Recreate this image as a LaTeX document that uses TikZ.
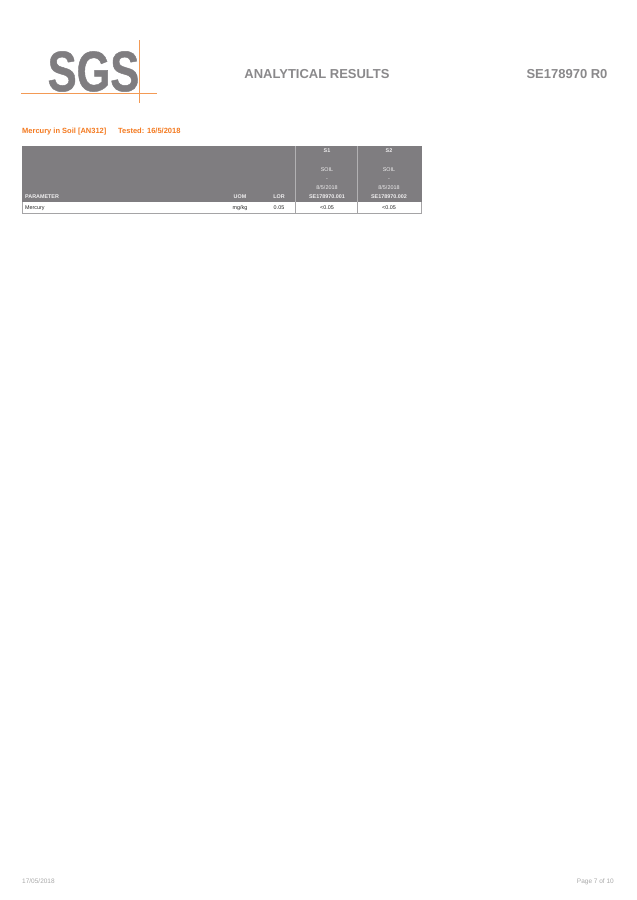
\documentclass[tikz,border=0pt]{standalone}
\usepackage{fontspec}
\setmainfont{Liberation Sans}
\usetikzlibrary{positioning}
\definecolor{sgsgrey}{HTML}{7F7D80}
\definecolor{sgsorange}{HTML}{F47A20}
\definecolor{sgslight}{HTML}{F39A55}
\definecolor{sgstitle}{HTML}{8A898B}
\definecolor{sgsfoot}{HTML}{A9A9A9}
\tikzset{
    band/.style = {fill=sgsgrey, inner sep=0pt, anchor=north west},
    rowbox/.style = {fill=white, inner sep=0pt, anchor=north west},
    head/.style = {text=white!88!sgsgrey, font=\fontsize{5.4}{6}\selectfont, inner sep=0pt, anchor=base},
    headb/.style = {head, font=\fontsize{5.4}{6}\selectfont\bfseries},
    cell/.style = {text=black!85, font=\fontsize{5.4}{6}\selectfont, inner sep=0pt, anchor=base},
    title/.style = {text=sgstitle, font=\fontsize{13}{14}\selectfont\bfseries, inner sep=0pt},
    foot/.style = {text=sgsfoot, font=\fontsize{6.5}{7}\selectfont, inner sep=0pt, anchor=base},
    heading/.style = {text=sgsorange, font=\fontsize{7.5}{9}\selectfont\bfseries, inner sep=0pt, anchor=base west},
    logoline/.style = {draw=sgslight, line width=1.6pt},
}
\begin{document}
\begin{tikzpicture}[x=1pt,y=-1pt]
\useasboundingbox (0,0) rectangle (637,900);
\fill[white] (0,0) rectangle (637,900);

% logo lines
\coordinate (hleft) at (21,93.5);
\coordinate (hright) at (157,93.5);
\coordinate (vtop) at (139.5,40);
\coordinate (vbot) at (139.5,103);
\draw[logoline] (hleft) -- (hright);
\draw[logoline] (vtop) -- (vbot);

\node (title) [title] at (317,74) {ANALYTICAL RESULTS};
\node (report) [title] at (567,74) {SE178970 R0};
\node (method) [heading] at (22,133) {Mercury in Soil [AN312]};
\node (tested) [heading] at (118,133) {Tested: 16/5/2018};

% table
\fill[sgsgrey!70] (21.5,202) rectangle (422,214);
\node (hdr) [band, minimum width=400pt, minimum height=56pt] at (21.5,146) {};
\node (rowa) [rowbox, minimum width=272.5pt, minimum height=11pt] at (22.5,202) {};
\node (rowb) [rowbox, minimum width=60.5pt, minimum height=11pt] at (296,202) {};
\node (rowc) [rowbox, minimum width=62.5pt, minimum height=11pt] at (358,202) {};
\draw[white!40!sgsgrey, line width=1pt] (295.5,146) -- (295.5,202);
\draw[white!40!sgsgrey, line width=1pt] (357.5,146) -- (357.5,202);

\node (sa) [headb] at (327,152.5) {S1};
\node (sb) [headb] at (389,152.5) {S2};
\node (soila) [head] at (327,171) {SOIL};
\node (soilb) [head] at (389,171) {SOIL};
\node (dasha) [head] at (327,180) {-};
\node (dashb) [head] at (389,180) {-};
\node (datea) [head] at (327,189.5) {8/5/2018};
\node (dateb) [head] at (389,189.5) {8/5/2018};
\node (ida) [headb] at (327,198.5) {SE178970.001};
\node (idb) [headb] at (389,198.5) {SE178970.002};
\node (param) [headb, anchor=base west] at (25,198.5) {PARAMETER};
\node (uom) [headb] at (240,198.5) {UOM};
\node (lor) [headb] at (279,198.5) {LOR};

\node (merc) [cell, anchor=base west] at (25,209.5) {Mercury};
\node (unit) [cell] at (240,209.5) {mg/kg};
\node (limit) [cell] at (279,209.5) {0.05};
\node (vala) [cell] at (327,209.5) {<0.05};
\node (valb) [cell] at (389,209.5) {<0.05};

% footer
\node (date) [foot, anchor=base west] at (22,883) {17/05/2018};
\node (page) [foot, anchor=base east] at (614,883) {Page 7 of 10};

% logo letters
\node (logo) [text=sgsgrey, inner sep=0pt, font=\fontsize{57}{60}\selectfont\bfseries] at (93.5,71.5) {\addfontfeature{FakeStretch=0.76,FakeBold=0.8}SGS};
\end{tikzpicture}
\end{document}
